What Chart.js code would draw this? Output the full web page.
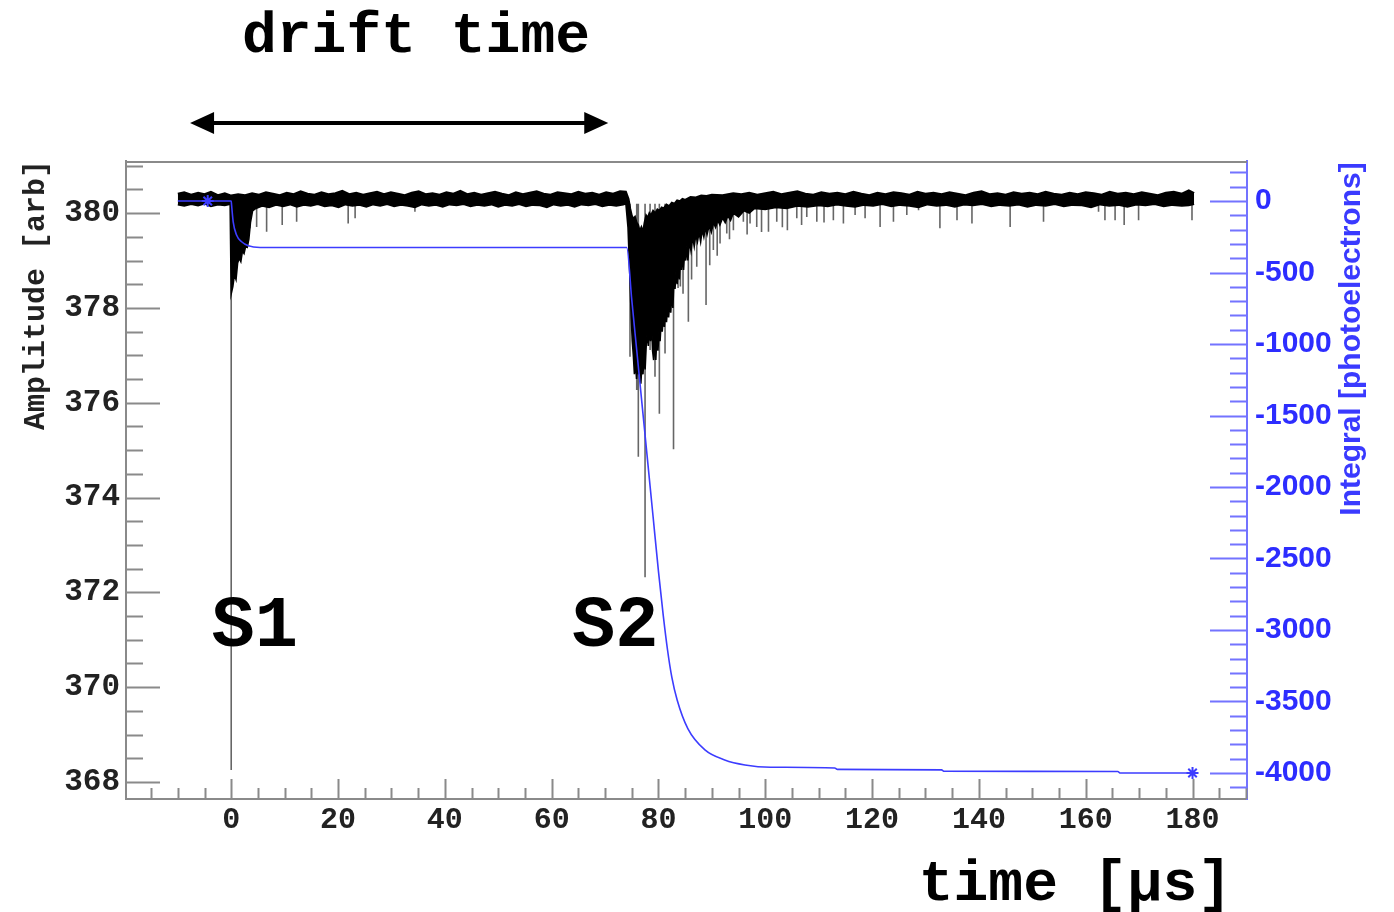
<!DOCTYPE html>
<html><head><meta charset="utf-8">
<script src="https://cdn.jsdelivr.net/npm/chart.js@4.4.1/dist/chart.umd.min.js"></script>
<style>html,body{margin:0;padding:0;background:#fff;}#wrap{width:1394px;height:912px;}</style>
</head><body><div id="wrap"><canvas id="c" width="1394" height="912"></canvas></div>
<script>
// ---- waveform: upper edge of the trace [time µs, amplitude arb] ----
const traceTop = [
 [-10,380.41],[-8.8,380.44],[-7.5,380.39],[-6.2,380.43],[-5,380.40],[-3.8,380.45],[-2.5,380.38],[-1.2,380.42],[0,380.37],
 [1.3,380.40],[2.6,380.38],[3.9,380.42],[5.2,380.39],[6.5,380.44],[7.8,380.41],[9.1,380.38],[10.4,380.43],[11.7,380.40],
 [13,380.46],[14.3,380.41],[15.6,380.39],[16.9,380.44],[18.2,380.40],[19.5,380.42],[20.8,380.47],[22.1,380.40],[23.4,380.43],
 [24.7,380.39],[26,380.42],[27.3,380.45],[28.6,380.40],[29.9,380.44],[31.2,380.41],[32.5,380.38],[33.8,380.43],[35.1,380.46],
 [36.4,380.40],[37.7,380.42],[39,380.39],[40.3,380.44],[41.6,380.41],[42.9,380.47],[44.2,380.40],[45.5,380.43],[46.8,380.39],
 [48.1,380.42],[49.4,380.45],[50.7,380.41],[52,380.38],[53.3,380.44],[54.6,380.40],[55.9,380.43],[57.2,380.46],[58.5,380.41],
 [59.8,380.39],[61.1,380.44],[62.4,380.42],[63.7,380.40],[65,380.45],[66.3,380.41],[67.6,380.43],[68.9,380.39],[70.2,380.44],
 [71.5,380.41],[72.8,380.46],[73.9,380.45],
 [74.4,380.30],[74.7,380.10],[75.0,379.95],[75.3,379.88],[75.6,379.92],[75.9,379.80],[76.2,379.75],[76.5,379.62],[76.8,379.70],
 [77.1,379.60],[77.4,379.80],[77.7,379.95],[78.0,379.90],[78.3,380.00],[78.6,379.95],[79.0,380.05],[79.4,380.00],[79.8,380.08],
 [80.2,380.05],[80.6,380.12],[81.0,380.10],[81.5,380.18],[82,380.15],[82.5,380.22],[83,380.20],[83.5,380.27],[84,380.25],
 [84.5,380.30],[85,380.28],[86,380.34],[87,380.33],[88,380.37],[89,380.36],[90,380.39],[92,380.38],[94,380.42],
 [95.5,380.40],[97,380.43],[98.5,380.39],[100,380.42],[101.5,380.45],[103,380.40],[104.5,380.43],[106,380.46],[107.5,380.41],
 [109,380.39],[110.5,380.44],[112,380.41],[113.5,380.43],[115,380.40],[116.5,380.45],[118,380.41],[119.5,380.38],[121,380.43],
 [122.5,380.40],[124,380.44],[125.5,380.42],[127,380.39],[128.5,380.45],[130,380.41],[131.5,380.43],[133,380.40],[134.5,380.44],
 [136,380.41],[137.5,380.38],[139,380.43],[140.5,380.46],[142,380.40],[143.5,380.42],[145,380.39],[146.5,380.44],[148,380.41],
 [149.5,380.43],[151,380.40],[152.5,380.45],[154,380.41],[155.5,380.39],[157,380.43],[158.5,380.40],[160,380.44],[161.5,380.42],
 [163,380.39],[164.5,380.45],[166,380.41],[167.5,380.43],[169,380.40],[170.5,380.44],[172,380.41],[173.5,380.38],[175,380.43],
 [176.5,380.45],[178,380.41],[179.3,380.48],[180.3,380.42]
];
// ---- waveform: lower edge of the trace (S1 and S2 pulses included) ----
const traceBottom = [
 [-10,380.18],[-8.8,380.15],[-7.5,380.19],[-6.2,380.16],[-5,380.20],[-3.8,380.14],[-2.5,380.18],[-1.2,380.16],[-0.2,380.19],
 [0,378.30],[0.3,378.45],[0.6,378.70],[0.9,378.60],[1.2,378.95],[1.5,379.05],[1.8,378.98],[2.1,379.20],[2.4,379.15],[2.7,379.30],
 [3.0,379.28],[3.3,379.45],[3.6,379.80],[4.0,380.05],[4.6,380.10],
 [5.8,380.15],[7.1,380.12],[8.4,380.17],[9.7,380.14],[11,380.18],[12.3,380.13],[13.6,380.17],[14.9,380.15],[16.2,380.19],
 [17.5,380.14],[18.8,380.16],[20.1,380.12],[21.4,380.18],[22.7,380.15],[24,380.17],[25.3,380.13],[26.6,380.18],[27.9,380.15],
 [29.2,380.19],[30.5,380.14],[31.8,380.17],[33.1,380.15],[34.4,380.12],[35.7,380.18],[37,380.15],[38.3,380.17],[39.6,380.13],
 [40.9,380.18],[42.2,380.16],[43.5,380.19],[44.8,380.14],[46.1,380.17],[47.4,380.15],[48.7,380.18],[50,380.13],[51.3,380.17],
 [52.6,380.15],[53.9,380.19],[55.2,380.14],[56.5,380.17],[57.8,380.16],[59.1,380.12],[60.4,380.18],[61.7,380.15],[63,380.17],
 [64.3,380.13],[65.6,380.18],[66.9,380.16],[68.2,380.19],[69.5,380.14],[70.8,380.17],[72.1,380.15],[73.4,380.18],[73.9,380.20],
 [74.3,379.70],[74.5,379.10],[74.7,378.50],[74.9,377.80],[75.1,377.30],[75.3,377.00],[75.5,376.60],[75.7,376.90],[75.9,376.50],
 [76.1,376.80],[76.3,376.60],[76.5,376.90],[76.7,376.40],[76.9,376.80],[77.1,376.60],[77.3,377.00],[77.5,376.70],[77.7,377.20],
 [77.9,377.50],[78.1,377.20],[78.3,377.60],[78.5,377.30],[78.7,377.70],[78.9,377.10],[79.1,376.90],[79.3,377.30],[79.5,376.90],
 [79.7,377.40],[79.9,377.10],[80.1,377.50],[80.3,377.30],[80.5,377.70],[80.7,377.50],[80.9,377.80],[81.1,377.60],[81.3,377.90],
 [81.5,377.70],[81.7,378.00],[81.9,377.80],[82.1,378.10],[82.3,377.90],[82.5,378.30],[82.7,378.00],[82.9,378.60],[83.1,378.40],
 [83.3,378.80],[83.5,378.50],[83.7,378.90],[83.9,378.60],[84.1,379.00],[84.3,378.80],[84.5,379.10],[84.7,378.80],[84.9,379.20],
 [85.1,379.00],[85.3,379.30],[85.5,379.00],[85.8,379.40],[86.1,379.20],[86.4,379.50],[86.7,379.30],[87.0,379.55],[87.3,379.40],
 [87.6,379.60],[87.9,379.40],[88.2,379.65],[88.5,379.50],[88.8,379.70],[89.1,379.55],[89.5,379.75],[89.9,379.60],[90.3,379.80],
 [90.7,379.70],[91.1,379.85],[91.5,379.75],[92,379.90],[92.5,379.80],[93,379.95],[93.5,379.85],[94,380.00],[95,379.92],
 [96,380.05],[97,380.00],[98,380.10],[100,380.08],[102,380.12],[104,380.10],[106,380.15],[108,380.13],[110,380.16],
 [111.7,380.14],[113.4,380.18],[115.1,380.15],[116.8,380.13],[118.5,380.17],[120.2,380.15],[121.9,380.19],[123.6,380.14],
 [125.3,380.17],[127,380.15],[128.7,380.12],[130.4,380.18],[132.1,380.15],[133.8,380.17],[135.5,380.13],[137.2,380.18],
 [138.9,380.16],[140.6,380.19],[142.3,380.14],[144,380.17],[145.7,380.15],[147.4,380.18],[149.1,380.13],[150.8,380.17],
 [152.5,380.15],[154.2,380.19],[155.9,380.14],[157.6,380.17],[159.3,380.16],[161,380.12],[162.7,380.18],[164.4,380.15],
 [166.1,380.17],[167.8,380.13],[169.5,380.18],[171.2,380.16],[172.9,380.19],[174.6,380.14],[176.3,380.17],[178,380.15],
 [179.3,380.16],[180.3,380.19]
];
// ---- individual downward spikes ----
const spikeBase = 380.2;
const spikeX   = [0.0,3.5,4.76,6.63,9.55,12.25,21.9,23.2,34.4,74.67,75.93,76.23,77.49,78.43,79.35,80.17,81.23,82.82,83.67,84.1,84.6,85.6,86.2,87.17,88.91,89.6,90.28,91.0,91.53,92.79,93.3,94.03,95.9,96.6,97.15,98.4,99.3,100.6,102.15,103.2,104.14,105.9,106.8,107.77,109.65,111.0,112.75,114.63,116.82,118.69,121.5,124.0,126.5,128.7,132.7,135.9,138.7,145.85,152.1,162.4,163.6,165.5,167.2,169.9,179.9];
const spikeMin = [368.25,379.68,379.71,379.61,379.75,379.82,379.78,379.89,380.03,376.97,376.27,374.86,372.32,377.11,376.55,375.77,377.04,375.02,378.42,378.45,378.30,377.71,378.60,378.87,378.06,378.90,379.22,379.10,379.36,379.57,379.45,379.64,379.82,379.55,379.78,379.71,379.60,379.61,379.82,379.70,379.64,379.89,379.75,379.92,379.82,379.80,379.85,379.78,379.96,379.89,379.71,379.82,379.96,380.06,379.68,379.85,379.78,379.71,379.82,380.03,379.85,379.85,379.75,379.85,379.85];
// ---- integral (photoelectrons) ----
const integralX = [-10,-4.4,0,0.07,0.37,1.0,1.95,3.2,5.4,74.06,75.0,76.0,77.0,78.0,79.0,80.0,80.9,81.7,82.5,83.5,85.5,88.7,92.4,96.2,101,113,113.5,133,133.5,166,166.5,180];
const integralY = [0,0,0,-28,-145,-238,-285,-313,-325,-325,-690,-1070,-1450,-1830,-2210,-2590,-2900,-3140,-3330,-3490,-3690,-3839,-3909,-3944,-3960,-3965,-3975,-3978,-3988,-3990,-4000,-4000];
const integralMarkX = [-4.4,180];
// ---- tick labels ----
const timeTicks = [0,20,40,60,80,100,120,140,160,180];
const ampTicks = [368,370,372,374,376,378,380];
const integralTicks = [0,-500,-1000,-1500,-2000,-2500,-3000,-3500,-4000];

const MONO = '"Liberation Mono", "Courier New", monospace';
const SANS = '"Liberation Sans", Arial, sans-serif';
const GRAY = '#8a8a8a';
const BLUE_AX = '#7373ff';
const BLUE_TX = '#2d2dff';

const upperData = traceTop.map(p => ({x: p[0], y: p[1]}));
const lowerData = traceBottom.map(p => ({x: p[0], y: p[1]}));
const spikeData = [];
spikeX.forEach((x,i)=>{ spikeData.push({x,y:spikeBase},{x,y:spikeMin[i]},{x,y:null}); });
const integralData = integralX.map((x,i)=>({x, y: integralY[i]}));

const overlay = {
  id: 'overlay',
  beforeDatasetsDraw(chart){
    const {ctx, chartArea:a, scales} = chart;
    const xs = scales.x, ys = scales.y, y2 = scales.y2;
    ctx.save();
    ctx.lineWidth = 2;
    ctx.strokeStyle = GRAY;
    ctx.beginPath(); ctx.moveTo(a.left, a.top+1); ctx.lineTo(a.right, a.top+1); ctx.stroke();
    ctx.beginPath();
    for (let v = 368; v <= 381.05; v += 0.5) {
      const p = Math.round(ys.getPixelForValue(v)) + 0.5;
      const len = (Math.abs(v % 2) < 1e-6) ? 34 : 17;
      ctx.moveTo(a.left, p); ctx.lineTo(a.left + len, p);
    }
    for (let v = -15; v <= 190; v += 5) {
      const p = Math.round(xs.getPixelForValue(v)) + 0.5;
      const len = (v % 20 === 0) ? 20 : 11;
      ctx.moveTo(p, a.bottom); ctx.lineTo(p, a.bottom - len);
    }
    ctx.stroke();
    ctx.strokeStyle = BLUE_AX;
    ctx.beginPath();
    for (let v = 200; v >= -4100; v -= 100) {
      const p = Math.round(y2.getPixelForValue(v)) + 0.5;
      const len = (v % 500 === 0) ? 37 : 17;
      ctx.moveTo(a.right, p); ctx.lineTo(a.right - len, p);
    }
    ctx.stroke();
    ctx.restore();
  },
  afterDraw(chart){
    const {ctx, chartArea:a, scales} = chart;
    const xs = scales.x, ys = scales.y;
    ctx.save();
    ctx.fillStyle = '#000';
    ctx.textAlign = 'center'; ctx.textBaseline = 'middle';
    ctx.font = 'bold 58px ' + MONO;
    ctx.fillText('drift time', 416, 37);
    const x1 = xs.getPixelForValue(-7.7), x2 = xs.getPixelForValue(70.6), ya = a.top - 38;
    ctx.strokeStyle = '#000'; ctx.lineWidth = 4;
    ctx.beginPath(); ctx.moveTo(x1+10, ya); ctx.lineTo(x2-10, ya); ctx.stroke();
    ctx.beginPath(); ctx.moveTo(x1, ya); ctx.lineTo(x1+24, ya-11); ctx.lineTo(x1+24, ya+11); ctx.closePath(); ctx.fill();
    ctx.beginPath(); ctx.moveTo(x2, ya); ctx.lineTo(x2-24, ya-11); ctx.lineTo(x2-24, ya+11); ctx.closePath(); ctx.fill();
    ctx.font = 'bold 72px ' + MONO;
    ctx.fillText('S1', xs.getPixelForValue(4.4), ys.getPixelForValue(371.25));
    ctx.fillText('S2', xs.getPixelForValue(71.9), ys.getPixelForValue(371.25));
    ctx.textAlign = 'right';
    ctx.font = 'bold 58px ' + MONO;
    ctx.fillText('time [\u03bcs]', 1232, 885);
    ctx.save();
    ctx.translate(36, 295); ctx.rotate(-Math.PI/2);
    ctx.textAlign = 'center'; ctx.fillStyle = '#222';
    ctx.font = 'bold 30px ' + MONO;
    ctx.fillText('Amplitude [arb]', 0, 0);
    ctx.restore();
    ctx.save();
    ctx.translate(1352, 339); ctx.rotate(-Math.PI/2);
    ctx.textAlign = 'center'; ctx.fillStyle = '#3a3aff';
    ctx.font = 'bold 30px ' + SANS;
    ctx.fillText('Integral [photoelectrons]', 0, 0);
    ctx.restore();
    ctx.restore();
  }
};

new Chart(document.getElementById('c'), {
  type: 'line',
  data: {
    datasets: [
      { label: 'Integral', data: integralData, yAxisID: 'y2', borderColor: '#3c3cff', borderWidth: 1.6,
        cubicInterpolationMode: 'monotone', fill: false,
        pointStyle: 'star', pointBorderColor: '#3c3cff', pointBorderWidth: 2,
        pointRadius: c => (c.raw && integralMarkX.includes(c.raw.x)) ? 6 : 0 },
      { label: 'upper', data: upperData, yAxisID: 'y', borderColor: '#000', borderWidth: 2, pointRadius: 0, fill: false },
      { label: 'lower', data: lowerData, yAxisID: 'y', borderColor: '#000', borderWidth: 1.6, pointRadius: 0,
        fill: '-1', backgroundColor: '#000' },
      { label: 'spikes', data: spikeData, yAxisID: 'y', borderColor: '#666666', borderWidth: 1.6, pointRadius: 0,
        spanGaps: false, fill: false }
    ]
  },
  options: {
    responsive: false, animation: false, devicePixelRatio: 1,
    layout: { padding: { top: 161, left: 0, right: 0, bottom: 0 } },
    plugins: { legend: { display: false }, tooltip: { enabled: false } },
    scales: {
      x: { type: 'linear', position: 'bottom', min: -19.7, max: 190.2,
        grid: { display: false, drawTicks: false },
        border: { display: true, color: GRAY, width: 2 },
        afterBuildTicks: s => { s.ticks = timeTicks.map(v => ({ value: v })); },
        ticks: { padding: 3, color: '#222', font: { family: MONO, size: 30, weight: 'bold' }, maxRotation: 0, autoSkip: false,
          callback: v => String(v) },
        afterFit: s => { s.height = 113; } },
      y: { type: 'linear', position: 'left', min: 367.64, max: 381.1,
        grid: { display: false, drawTicks: false },
        border: { display: true, color: GRAY, width: 2 },
        afterBuildTicks: s => { s.ticks = ampTicks.map(v => ({ value: v })); },
        ticks: { padding: 6, color: '#222', font: { family: MONO, size: 31, weight: 'bold' }, autoSkip: false,
          callback: v => String(v) },
        afterFit: s => { s.width = 126; } },
      y2: { type: 'linear', position: 'right', min: -4182, max: 280,
        grid: { display: false, drawTicks: false },
        border: { display: true, color: BLUE_AX, width: 2 },
        afterBuildTicks: s => { s.ticks = integralTicks.map(v => ({ value: v })); },
        ticks: { padding: 8, color: BLUE_TX, font: { family: SANS, size: 30, weight: 'bold' }, autoSkip: false,
          callback: v => String(v) },
        afterFit: s => { s.width = 147; } }
    }
  },
  plugins: [overlay]
});
</script>
</body></html>
